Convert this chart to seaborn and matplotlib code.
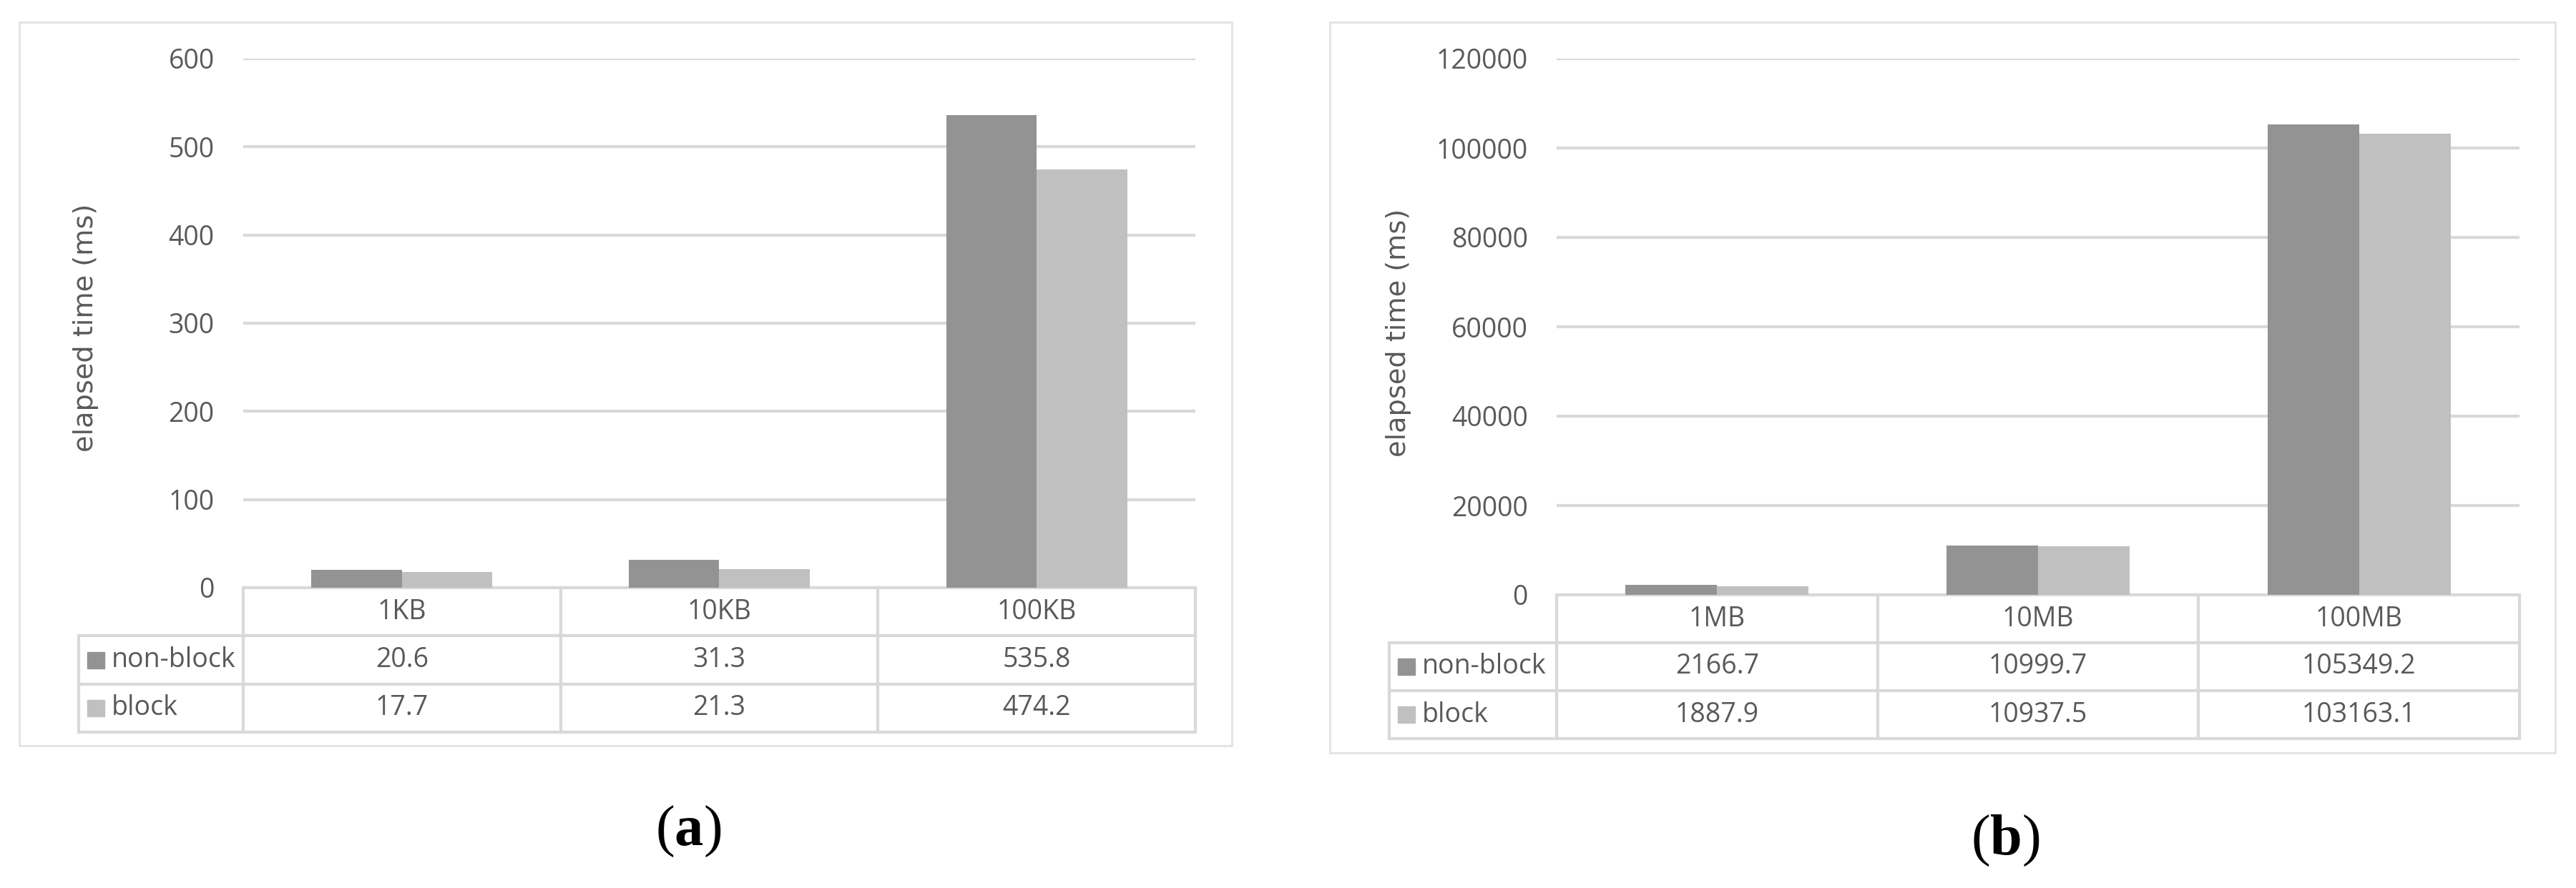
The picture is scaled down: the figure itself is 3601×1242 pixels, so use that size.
import pandas as pd
import matplotlib.pyplot as plt
import seaborn as sns
from matplotlib.patches import Rectangle

# data
modes = ["non-block", "block"]
sizes_a = ["1KB", "10KB", "100KB"]
nonblock_a = [20.6, 31.3, 535.8]
block_a = [17.7, 21.3, 474.2]
sizes_b = ["1MB", "10MB", "100MB"]
nonblock_b = [2166.7, 10999.7, 105349.2]
block_b = [1887.9, 10937.5, 103163.1]

sns.set_style("white")
plt.rcParams['font.family'] = ['Open Sans', 'DejaVu Sans']
plt.rcParams['mathtext.fontset'] = 'custom'
plt.rcParams['mathtext.rm'] = 'Liberation Serif'
plt.rcParams['mathtext.bf'] = 'Liberation Serif:bold'

W, H = 3601, 1242
dark, light = "#939393", "#c0c0c0"
grid_col = "#d9d9d9"
txt_col = "#595959"
fs = 27

fig = plt.figure(figsize=(W / 100, H / 100), dpi=100)
fig.patch.set_facecolor("white")


def px_axes(x0, x1, ytop, ybot):
    return fig.add_axes([x0 / W, 1 - ybot / H, (x1 - x0) / W, (ybot - ytop) / H])


def panel(ax, sizes, nb, bl, ymax, ystep, tab_left_px, plot_px):
    df = pd.DataFrame({
        "size": sizes * 2,
        "time": nb + bl,
        "mode": [modes[0]] * len(sizes) + [modes[1]] * len(sizes),
    })
    sns.barplot(data=df, x="size", y="time", hue="mode", palette=[dark, light],
                width=0.57, saturation=1, linewidth=0, legend=False, ax=ax, zorder=3)
    ax.set_xlim(-0.5, len(sizes) - 0.5)
    ax.set_ylim(0, ymax)
    ax.set_yticks(range(0, ymax + 1, ystep))
    ax.tick_params(axis="y", length=0, pad=29, labelsize=fs, labelcolor=txt_col)
    ax.set_xticks([])
    ax.set_xlabel("")
    ax.set_ylabel("")
    ax.yaxis.grid(True, color=grid_col, lw=3, zorder=0)
    ax.set_axisbelow(True)
    for s in ax.spines.values():
        s.set_visible(False)

    # data table under the bars
    x0px, x1px, ytop, ybot, tab_bot = plot_px
    pw = x1px - x0px
    ph = ybot - ytop
    bx = (tab_left_px - x0px) / pw
    bw = (x1px - tab_left_px) / pw
    bh = (tab_bot - ybot) / ph
    rows = [[""] + sizes,
            [modes[0]] + ["%.1f" % v for v in nb],
            [modes[1]] + ["%.1f" % v for v in bl]]
    lab_w = (x0px - tab_left_px)
    col_w = pw / len(sizes)
    tab = ax.table(cellText=rows, cellLoc="center",
                   colWidths=[lab_w] + [col_w] * len(sizes),
                   bbox=[bx, -bh, bw, bh])
    tab.auto_set_font_size(False)
    tab.set_fontsize(fs)
    for (r, c), cell in tab.get_celld().items():
        cell.set_edgecolor(grid_col)
        cell.set_linewidth(3)
        cell.get_text().set_color(txt_col)
        if r == 0 and c == 0:
            cell.visible_edges = ""
        if c == 0 and r > 0:
            cell.get_text().set_ha("left")
            cell.PAD = 46 / lab_w
            # legend swatch
            yc = -bh * (r + 0.5) / 3
            sw, sh = 24 / pw, 23 / ph
            ax.add_patch(Rectangle(((tab_left_px + 12 - x0px) / pw, yc - sh / 2), sw, sh,
                                   transform=ax.transAxes, clip_on=False,
                                   color=[dark, light][r - 1], zorder=5))


# (a)
ax1 = px_axes(340, 1671, 82, 822)
panel(ax1, sizes_a, nonblock_a, block_a, 600, 100, 110, (340, 1671, 82, 822, 1024))
fig.text(120 / W, 1 - 458 / H, "elapsed time (ms)", rotation=90, ha="center", va="center",
         fontsize=27.5, color=txt_col, family="DejaVu Sans")
fig.patches.append(Rectangle((27 / W, 1 - 1043 / H), (1722 - 27) / W, (1043 - 31) / H,
                             transform=fig.transFigure, fill=False, ec="#e2e2e2", lw=2))
fig.text(962 / W, 1 - 1163 / H, r"($\mathbf{a}$)", ha="center", va="center",
         fontsize=58, color="black", family="Liberation Serif")

# (b)
ax2 = px_axes(2176, 3522, 82, 832)
panel(ax2, sizes_b, nonblock_b, block_b, 120000, 20000, 1942, (2176, 3522, 82, 832, 1033))
fig.text(1955 / W, 1 - 465 / H, "elapsed time (ms)", rotation=90, ha="center", va="center",
         fontsize=27.5, color=txt_col, family="DejaVu Sans")
fig.patches.append(Rectangle((1859 / W, 1 - 1053 / H), (3572 - 1859) / W, (1053 - 31) / H,
                             transform=fig.transFigure, fill=False, ec="#e2e2e2", lw=2))
fig.text(2803 / W, 1 - 1176 / H, r"($\mathbf{b}$)", ha="center", va="center",
         fontsize=58, color="black", family="Liberation Serif")

plt.savefig("out.png", dpi=100)
